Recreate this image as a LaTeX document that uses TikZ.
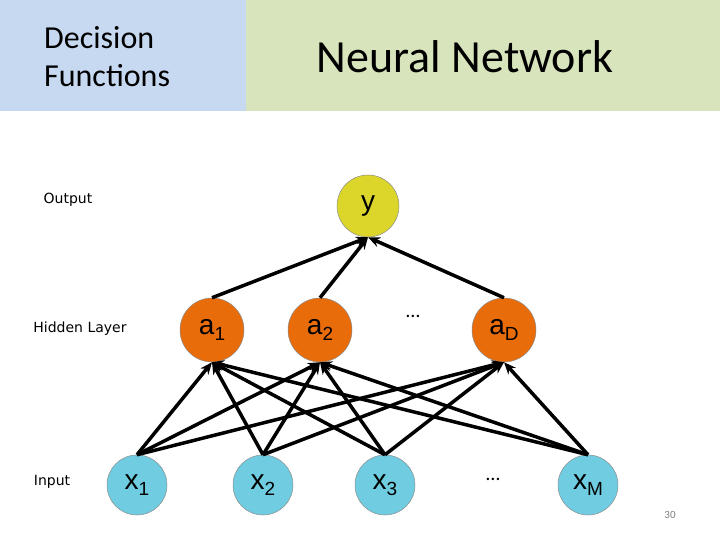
\documentclass[tikz,border=0pt]{standalone}
\usepackage{fontspec}
\setmainfont{Carlito}
\newfontfamily\nodefont{Liberation Sans}
\newfontfamily\labfont{DejaVu Sans}
\usetikzlibrary{arrows.meta}
\definecolor{hdblue}{HTML}{C6D9F0}
\definecolor{hdgreen}{HTML}{D7E4BC}
\definecolor{outyel}{HTML}{DDD62A}
\definecolor{hidorange}{HTML}{E96C0A}
\definecolor{inblue}{HTML}{70CCE0}
\newcommand{\ulab}[2]{#1\raisebox{-6pt}{\fontsize{19}{20}\selectfont #2}}
\tikzset{
  unit/.style={circle,draw=black!45,line width=.5pt,font=\nodefont\fontsize{28}{30}\selectfont},
  outunit/.style={unit,fill=outyel,minimum size=62pt,inner sep=0pt},
  hidunit/.style={unit,fill=hidorange,minimum size=64pt,inner sep=0pt},
  inunit/.style={unit,fill=inblue,minimum size=60pt,inner sep=0pt},
  layerlab/.style={font=\labfont\fontsize{14}{16}\selectfont},
  conn/.style={-{Stealth[length=12pt,width=10pt]},line width=3.5pt},
}

\begin{document}
\begin{tikzpicture}[x=1pt,y=-1pt]
\useasboundingbox (0,0) rectangle (720,540);
\fill[hdblue] (0,0) rectangle (246,111);
\fill[hdgreen] (246,0) rectangle (720,111);
\node[anchor=west,align=left,inner sep=0pt,font=\fontsize{32}{38}\selectfont] (hdl) at (44,57) {Decision\\Functions};
\node[font=\fontsize{46}{50}\selectfont] (hdr) at (465,57) {Neural Network};

\node[layerlab] (labout) at (68,200) {Output};
\node[layerlab] (labhid) at (80,329) {Hidden Layer};
\node[layerlab] (labin) at (52,482) {Input};

\node[outunit] (y) at (368,206) {y};

\node[hidunit] (a1) at (212,330) {\ulab{a}{1}};
\node[hidunit] (a2) at (320,330) {\ulab{a}{2}};
\node[font=\fontsize{20}{22}\selectfont] (hdots) at (413,316) {\dots};
\node[hidunit] (aD) at (504,330) {\ulab{a}{D}};

\node[inunit] (x1) at (137,485) {\ulab{x}{1}};
\node[inunit] (x2) at (263,485) {\ulab{x}{2}};
\node[inunit] (x3) at (385,485) {\ulab{x}{3}};
\node[font=\fontsize{20}{22}\selectfont] (idots) at (493,479) {\dots};
\node[inunit] (xM) at (588,485) {\ulab{x}{M}};

% input to hidden
\foreach \i in {x1,x2,x3,xM}
  \foreach \j in {a1,a2,aD}
    \draw[conn] (\i.north) -- (\j.south);
% hidden to output
\foreach \j in {a1,a2,aD}
  \draw[conn] (\j.north) -- (y.south);

\node[text=black!50,font=\fontsize{11}{12}\selectfont] (pg) at (670,515) {30};
\end{tikzpicture}
\end{document}
